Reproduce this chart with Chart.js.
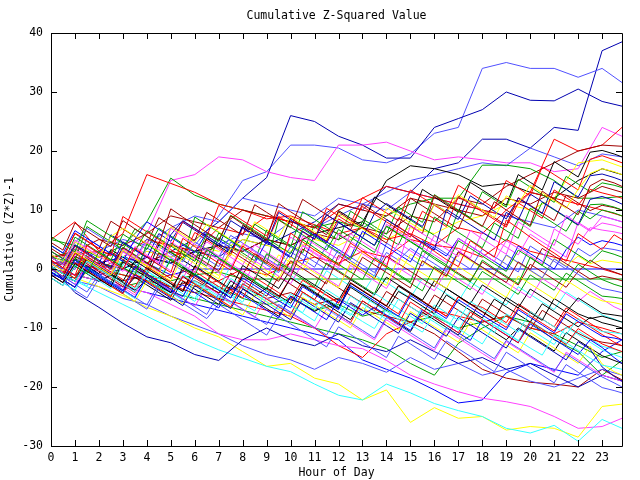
<!DOCTYPE html>
<html>
<head>
<meta charset="utf-8">
<script src="https://cdn.jsdelivr.net/npm/chart.js@4.4.1/dist/chart.umd.min.js"></script>
<style>
  html, body { margin: 0; padding: 0; background: #fff; }
  #wrap { width: 640px; height: 480px; }
</style>
</head>
<body>
<div id="wrap"><canvas id="c" width="640" height="480"></canvas></div>
<script>
// sample times: hourly for the stations that stand out, half-hourly for the bundle (last one 23:50)
var hours = [0,1,2,3,4,5,6,7,8,9,10,11,12,13,14,15,16,17,18,19,20,21,22,23,23.83];
var halfHours = [0,0.5,1,1.5,2,2.5,3,3.5,4,4.5,5,5.5,6,6.5,7,7.5,8,8.5,9,9.5,10,10.5,11,11.5,
                 12,12.5,13,13.5,14,14.5,15,15.5,16,16.5,17,17.5,18,18.5,19,19.5,20,20.5,21,21.5,22,22.5,23,23.5,23.83];
var xTicks = [0,1,2,3,4,5,6,7,8,9,10,11,12,13,14,15,16,17,18,19,20,21,22,23];
var yTicks = [-30,-20,-10,0,10,20,30,40];

var topNavy   = [1,1.5,-1,0,2,1,3,2,5,4,6,8,11,10,14,13,17,18,22,22,20.5,24,23.5,37,38.5];
var topSlate  = [2,1,-1,1,3,2,4,9,15,16.5,21,21,20.5,18.5,18,19.5,23,24,34,35,34,34,32.5,34,31.6];
var peakNavy  = [-1,-1.5,1,2,1,3,5,8,12,15.5,26,25,22.5,21,18.8,18.8,24,25.5,27,30,28.6,28.5,30.5,28.4,27.6];
var pinkHigh  = [0.5,1,2,3,6,15,16,19,18.5,16.5,15.5,15,21,21,21.5,20,18.5,19,18.5,18,18,16.5,17,24,22.5];
var redEarly  = [2,2.5,3,6,16,14.5,13,11,10,8.5,9,7.5,6,7,5,6,4,3.5,2,5,3,2,1,0,-1];
var greenEarly= [5,4,2,4,8,15.4,12.5,11,10,9,8,7,8,7,9,11,12,12,17.6,17.6,17,15,12,12,12.3];
var brownLate = [1,1,0,2,1,3,2,4,3,5,4,6,5,7,6,9,8,12,11,14,16,18,20,21,20.8];
var redLate   = [0,-1,1,0,-2,-1,-3,-2,0,-1,1,2,1,3,2,5,4,7,6,10,13,22,20,21,24];
var blackMid  = [0,-1,1,0,2,1,3,4,3,5,4,6,7,8,15,17.5,17,16,14,14.5,13,12,15,17,16];
var yellowUp  = [1,1,2,1,3,2,4,3,5,4,3,5,4,6,5,7,6,8,9,11,10,12,18,18.5,17.3];
var slateUp   = [0,-1,0,1,2,1,3,4,6,5,8,7,9,11,13,15,16,17,18,17.5,20.5,19,17.5,19.5,19];
var greenFlat = [0,2,1,0,-1,-2,-1,-0.5,-1.7,-1.7,-1.7,-1.7,-1.7,-1.7,-1.7,-1.7,-1.7,-1.7,-1.7,-1.7,-1.7,-1.7,-1.7,-1.7,-1.7];
var blueFlat  = [1,-1,1,2,1,-1,0,0,0,0,0,0,0,0,0,0,0,0,0,0,0,0,0,0,0];
var navyLow   = [0.5,-4,-6.5,-9.2,-11.5,-12.5,-14.5,-15.5,-12,-10,-12,-13,-11,-13,-14,-12,-14,-16,-15,-17,-16,-18,-20,-18,-19];
var cyanLow   = [-0.5,-2,-4,-6,-8,-10,-12,-13.7,-15.1,-16.5,-17.4,-19.5,-21.4,-22.2,-19.5,-21,-22.8,-24,-25,-27,-27.8,-26.5,-29.2,-25.5,-27];
var yellowLow = [0,-1.5,-3,-4.5,-6.5,-8,-10,-11.5,-14,-16.5,-16,-18.5,-19.5,-22.2,-20.5,-26,-23.5,-25.3,-25,-27.3,-26.7,-27,-28.5,-23.3,-22.9];
var pinkLow   = [0,-1,-2,-3,-4,-6,-8,-11,-12,-12,-11,-12,-13,-13.5,-15.5,-18,-19.5,-20.8,-21.9,-22.5,-23.3,-25,-27,-26.7,-25.3];
var slateLow  = [-1,-2,-3,-5,-6,-8,-9.5,-11,-13,-14.5,-15.4,-17,-15,-16,-17.5,-15,-17,-16,-18,-17,-19,-20,-18.5,-17,-18];
var brownLow  = [0,-1,0,-2,-1,-3,-2,-4,-3,-5,-4,-6,-5,-7,-8,-9,-11,-14,-17,-18.5,-19.2,-19.5,-20,-17,-18.8];
var redLow    = [1,1,0,-1,-2,-3,-4,-5,-6,-7,-8,-10,-13,-15,-11,-9,-7,-8,-9,-8,-10,-11,-9,-10,-11];
var greenLow  = [0,-1,-2,-3,-2,-4,-5,-6,-7,-8,-9,-10,-11,-12,-13.5,-16,-18,-12.6,-10,-8,-10,-11,-13,-15,-14];
var greenLow2 = [2,1,0,-1,-2,-3,-4,-3,-5,-6,-5,-7,-6,-8,-7,-9,-8,-10,-9,-8,-9,-12,-14,-18,-15.5];
var blueLow   = [0,-1,-2,-3,-4,-5,-6,-7,-8,-9,-10,-11,-12,-15.4,-17,-18.5,-20.5,-22.7,-22.2,-17.6,-16,-17,-18,-14,-12];
var redUp     = [5,8,3,2,5,4,3,7,6,9,8,7,10,12,14,13,12,11,10,9,13,12,11,10,9];
var brownUp   = [2,3,5,4,6,9,8,7,10,9,8,7,11,10,9,12,11,10,9,12,11,13,12,14,13];
var slateMid  = [1,1,3,5,4,7,9,8,12,11,10,9,12,11,10,13,12,11,10,9,8,7,10,9,8];

// the rest of the bundle, half-hourly
var s01 = [1.5,0.2,-1.1,4.0,2.6,1.3,0.0,3.5, 2.1,0.7,-0.6,5.2,3.8,2.3,1.0,-0.2, 3.9,2.5,1.0,-0.3,6.1,4.6,3.2,1.9, 0.6,4.4,3.0,1.6,0.3,7.2,5.8,4.3, 3.0,1.6,0.4,4.8,3.4,2.0,8.3,6.9, 5.4,4.0,2.7,1.3,6.0,4.6,3.3,5.8, 5.0];
var s02 = [3.0,1.8,0.5,-0.8,2.9,1.6,0.3,-1.0, 4.2,2.8,1.5,0.1,-1.1,3.3,1.9,0.6, -0.7,-2.0,2.6,1.2,-0.1,5.0,3.6,2.2, 0.8,-0.5,-1.8,1.9,0.5,-0.9,-2.2,3.1, 1.7,0.4,-0.9,-2.2,1.5,0.1,-1.2,-2.5, 2.0,0.6,-0.7,-2.0,0.8,-0.5,-1.8,-2.6, -3.0];
var s03 = [-0.5,-1.8,1.5,0.1,-1.2,-2.5,-3.7,0.4, -0.9,-2.2,-3.5,-4.7,-1.0,-2.3,-3.6,-4.9, -1.5,-2.8,-4.1,-5.4,-6.6,-3.0,-4.3,-5.6, -6.9,-2.8,-4.1,-5.4,-6.7,-8.0,-4.5,-5.8, -7.1,-8.4,-5.2,-6.5,-7.8,-9.1,-10.3,-6.9, -8.2,-9.5,-10.8,-7.6,-8.9,-10.2,-11.4,-11.7, -12.0];
var s04 = [2.0,0.7,4.9,3.5,2.2,0.9,-0.4,3.8, 2.4,1.1,6.9,5.5,4.2,2.8,1.5,0.2, 4.3,2.9,1.6,0.3,-1.0,5.6,4.2,2.9, 1.6,6.0,4.6,3.3,2.0,0.7,7.4,6.0, 4.7,3.4,2.1,6.5,5.1,3.8,2.5,8.0, 6.6,5.3,4.0,9.1,7.7,6.4,8.9,8.4, 8.0];
var s05 = [0.5,-0.8,-2.1,1.3,0.0,-1.3,-2.6,-3.9, -0.3,-1.6,-2.9,-4.2,-5.5,-2.0,-3.3,-4.6, -5.9,-7.1,-3.6,-4.9,-6.2,-7.5,-8.8,-5.0, -6.3,-7.6,-8.9,-10.1,-6.8,-8.1,-9.4,-10.7, -7.5,-8.8,-10.1,-11.4,-12.7,-9.5,-10.8,-12.1, -13.4,-14.6,-11.2,-12.5,-13.8,-15.1,-16.3,-16.7, -17.0];
var s06 = [4.5,3.2,7.8,6.4,5.1,3.8,8.2,6.8, 5.5,4.2,10.2,8.8,7.5,6.2,4.9,9.0, 7.6,6.3,5.0,11.1,9.7,8.4,7.1,5.8, 9.7,8.3,7.0,5.7,4.4,8.6,7.3,6.0, 12.5,11.1,9.8,8.5,7.2,11.4,10.0,8.7, 7.4,13.2,11.8,10.5,9.2,14.1,15.2,14.6, 14.0];
var s07 = [1.0,-0.3,2.9,1.6,0.3,-1.0,3.2,1.9, 0.6,-0.7,-2.0,2.2,0.9,-0.4,-1.7,3.6, 2.3,1.0,-0.3,-1.6,2.0,0.7,-0.6,-1.9, -3.2,1.1,-0.2,-1.5,-2.8,1.9,0.6,-0.7, -2.0,-3.3,0.4,-0.9,-2.2,-3.5,-4.8,-1.2, -2.5,-3.8,-5.1,-1.9,-3.2,-4.5,-5.4,-5.7, -6.0];
var s08 = [-1.0,-2.3,0.9,-0.4,-1.7,-3.0,1.2,-0.1, -1.4,-2.7,-4.0,0.3,-1.0,-2.3,-3.6,-4.9, -1.1,-2.4,-3.7,-5.0,-1.5,-2.8,-4.1,-5.4, -6.7,-2.4,-3.7,-5.0,-6.3,-2.9,-4.2,-5.5, -6.8,-3.3,-4.6,-5.9,-7.2,-8.5,-4.8,-6.1, -7.4,-8.7,-5.0,-6.3,-7.6,-8.4,-8.0,-8.6, -9.0];
var s09 = [0.0,-1.3,-2.6,-3.9,-0.9,-2.2,-3.5,-4.8, -6.1,-2.5,-3.8,-5.1,-6.4,-7.7,-4.2,-5.5, -6.8,-8.1,-9.4,-6.0,-7.3,-8.6,-9.9,-11.2, -7.8,-9.1,-10.4,-11.7,-8.2,-9.5,-10.8,-12.1, -13.4,-10.0,-11.3,-12.6,-13.9,-15.2,-12.1,-13.4, -14.7,-16.0,-17.3,-14.4,-15.7,-17.0,-18.3,-19.3, -20.0];
var s10 = [2.0,0.7,4.1,2.8,1.5,0.2,4.6,3.3, 2.0,0.7,5.8,8.2,6.9,5.6,4.3,3.0, 7.1,5.8,4.5,3.2,1.9,6.4,5.1,9.2, 7.9,6.6,5.3,4.0,8.4,7.1,5.8,4.5, 3.2,10.1,8.8,7.5,6.2,4.9,9.6,8.3, 12.7,11.4,10.1,8.8,7.5,11.8,12.3,11.6, 11.0];
var s11 = [-1.0,-2.3,1.0,-0.3,-1.6,-2.9,-4.2,-0.8, -2.1,-3.4,-4.7,-1.2,-2.5,-3.8,-5.1,-6.4, -2.5,-3.8,-5.1,-6.4,-7.7,-3.9,-5.2,-6.5, -7.8,-9.1,-5.4,-6.7,-8.0,-9.3,-5.6,-6.9, -8.2,-9.5,-10.8,-7.3,-8.6,-9.9,-11.2,-12.5, -8.9,-10.2,-11.5,-12.8,-10.1,-11.4,-12.7,-13.5, -14.0];
var s12 = [5.5,4.2,2.9,8.2,6.9,5.6,4.3,3.0, 6.5,5.2,3.9,2.6,1.3,6.0,4.7,9.1, 7.8,6.5,5.2,3.9,2.6,6.8,5.5,4.2, 2.9,1.6,5.3,4.0,7.2,5.9,4.6,3.3, 2.0,0.7,4.8,3.5,2.2,0.9,-0.4,3.2, 1.9,0.6,5.0,3.7,2.4,1.1,3.1,2.5, 2.0];
var s13 = [-0.5,-1.8,-3.1,0.4,-0.9,-2.2,-3.5,-4.8, -1.4,-2.7,-4.0,-2.7,-4.0,-5.3,-6.6,-3.1, -4.4,-5.7,-7.0,-8.3,-4.7,-6.0,-7.3,-8.6, -5.2,-6.5,-7.8,-6.5,-7.8,-9.1,-10.4,-6.9, -8.2,-9.5,-10.8,-12.1,-8.6,-9.9,-11.2,-12.5, -9.3,-10.6,-11.9,-13.2,-14.5,-12.0,-13.3,-15.0, -16.0];
var s14 = [1.0,-0.3,3.2,1.9,0.6,-0.7,2.9,1.6, 4.6,3.3,2.0,0.7,-0.6,3.5,2.2,0.9, -0.4,-1.7,2.4,1.1,5.4,4.1,2.8,1.5, 0.2,3.9,2.6,1.3,7.6,6.3,5.0,3.7, 2.4,1.1,5.2,3.9,2.6,1.3,4.8,3.5, 2.2,0.9,6.8,5.5,4.2,7.0,6.6,6.3, 6.0];
var s15 = [-1.5,-2.8,0.6,-0.7,-2.0,-3.3,0.8,-0.5, -1.8,-3.1,-4.4,-1.0,-2.3,-3.6,-4.9,-1.6, -2.9,-4.2,-5.5,-6.8,-4.2,-5.5,-6.8,-3.5, -4.8,-6.1,-7.4,-4.1,-5.4,-6.7,-8.0,-9.3, -6.1,-7.4,-8.7,-5.5,-6.8,-8.1,-9.4,-10.7, -7.2,-8.5,-9.8,-11.1,-8.4,-9.7,-10.6,-10.8, -11.0];
var s16 = [0.0,-1.3,2.8,1.5,0.2,2.9,1.6,0.3, -1.0,2.7,1.4,0.1,-1.2,-2.5,1.6,0.3, -1.0,2.6,1.3,0.0,-1.3,3.4,2.1,0.8, -0.5,-1.8,2.0,0.7,-0.6,-1.9,-3.2,1.4, 0.1,-1.2,2.9,1.6,0.3,-1.0,-2.3,1.2, -0.1,3.5,2.2,0.9,-0.4,1.5,0.2,-0.5, -1.0];
var s17 = [2.5,1.2,4.6,3.3,2.0,5.5,6.9,5.6, 4.3,3.0,7.1,5.8,4.5,7.6,6.3,5.0, 3.7,8.0,6.7,5.4,8.9,7.6,6.3,5.0, 9.4,8.1,6.8,5.5,10.4,9.1,7.8,6.5, 11.0,9.7,12.6,11.3,10.0,8.7,12.4,11.1, 14.2,12.9,11.6,10.3,13.5,16.2,17.0,16.5, 16.0];
var s18 = [0.5,-0.8,-2.1,1.8,0.5,-0.8,-2.1,1.4, 0.1,-1.2,-2.5,-3.8,0.5,-0.8,-2.1,-3.4, 0.6,-0.7,-2.0,-3.3,-0.1,-1.4,-2.7,-4.0, -5.3,-1.8,-3.1,-4.4,-1.4,-2.7,-4.0,-5.3, -2.0,-3.3,-4.6,-5.9,-2.7,-4.0,-5.3,-6.6, -3.4,-4.7,-6.0,-7.3,-4.9,-6.2,-7.5,-7.8, -8.0];
var s19 = [3.0,1.7,4.4,6.9,5.6,4.3,3.0,1.7, 5.1,3.8,2.5,1.2,4.6,3.3,2.0,5.7, 4.4,3.1,1.8,0.5,3.8,2.5,1.2,-0.1, 3.3,2.0,0.7,-0.6,2.8,1.5,3.5,2.2, 0.9,-0.4,2.9,1.6,0.3,-1.0,2.4,1.1, -0.2,-1.5,1.7,0.4,-0.9,-2.2,-3.3,-3.7, -4.0];
var s20 = [-0.5,-1.8,-3.1,-0.1,-1.4,-2.7,-4.0,-1.0, -2.3,-3.6,-4.9,-6.2,-2.8,-4.1,-5.4,-6.7, -3.4,-4.7,-6.0,-7.3,-8.6,-5.1,-6.4,-7.7, -9.0,-5.7,-7.0,-8.3,-9.6,-10.9,-7.5,-8.8, -10.1,-11.4,-8.2,-9.5,-10.8,-12.1,-13.4,-10.2, -11.5,-12.8,-14.1,-15.4,-12.3,-13.6,-16.6,-18.2, -19.0];
var s21 = [1.0,-0.3,-1.6,2.1,0.8,-0.5,-1.8,-3.1, 0.4,-0.9,-2.2,-3.5,0.3,-1.0,-2.3,-3.6, -4.9,-1.4,-2.7,-4.0,-5.3,-1.9,-3.2,-4.5, -5.8,-2.4,-3.7,-5.0,-6.3,-7.6,-4.1,-5.4, -6.7,-8.0,-4.7,-6.0,-7.3,-8.6,-9.9,-6.6, -7.9,-9.2,-10.5,-7.2,-8.5,-9.8,-11.1,-12.4, -13.0];
var s22 = [2.0,0.7,5.4,4.1,2.8,1.5,5.9,4.6, 3.3,6.9,5.6,4.3,3.0,1.7,6.1,4.8, 3.5,2.2,0.9,8.4,7.1,5.8,4.5,3.2, 6.7,5.4,4.1,2.8,7.3,6.0,4.7,3.4, 8.8,7.5,6.2,4.9,3.6,7.8,6.5,5.2, 10.3,9.0,7.7,6.4,9.8,8.5,10.0,9.5, 9.0];
var s23 = [-1.0,-2.3,-3.6,0.2,-1.1,-2.4,-3.7,-5.0, -1.4,-2.7,-4.0,-5.3,-2.0,-3.3,-4.6,-5.9, -2.4,-3.7,-5.0,-6.3,-7.6,-4.1,-5.4,-6.7, -8.0,-4.6,-5.9,-7.2,-8.5,-5.1,-6.4,-7.7, -9.0,-10.3,-6.9,-8.2,-9.5,-10.8,-7.6,-8.9, -10.2,-11.5,-12.8,-9.8,-11.1,-12.4,-13.7,-14.5, -15.0];
var s24 = [0.0,-1.3,2.4,3.9,2.6,1.3,0.0,-1.3, 2.3,1.0,-0.3,-1.6,2.0,0.7,-0.6,-1.9, -3.2,1.4,0.1,-1.2,-2.5,1.0,-0.3,-1.6, -2.9,0.6,-0.7,-2.0,-3.3,0.2,-1.1,-2.4, -3.7,-0.4,-1.7,-3.0,-4.3,-1.0,-2.3,-3.6, -4.9,-1.6,-2.9,-4.2,-5.5,-3.8,-5.1,-6.4, -7.0];
var s25 = [1.5,0.2,3.9,2.6,1.3,0.0,3.6,2.3, 1.0,-0.3,-1.6,3.6,2.3,1.0,-0.3,3.1, 1.8,0.5,-0.8,-2.1,1.4,0.1,-1.2,-2.5, 2.3,1.0,-0.3,-1.6,2.2,0.9,-0.4,-1.7, -3.0,0.6,-0.7,-2.0,1.2,-0.1,-1.4,-2.7, 0.8,-0.5,-1.8,-3.1,-0.4,-1.7,-1.2,-1.6, -2.0];
var s26 = [-0.5,-1.8,-3.1,-0.3,-1.6,-2.9,-4.2,-5.5, -2.0,-3.3,-4.6,-5.9,-2.6,-3.9,-5.2,-6.5, -7.8,-4.3,-5.6,-6.9,-8.2,-4.8,-6.1,-7.4, -8.7,-10.0,-6.5,-7.8,-9.1,-10.4,-7.2,-8.5, -9.8,-11.1,-12.4,-9.0,-10.3,-11.6,-12.9,-14.2, -10.8,-12.1,-13.4,-14.7,-16.0,-13.1,-16.1,-17.4, -18.0];
var s27 = [4.0,2.7,6.5,5.2,3.9,2.6,1.3,5.0, 8.0,6.7,5.4,4.1,2.8,6.2,4.9,3.6, 2.3,1.0,4.7,3.4,2.1,0.8,5.9,4.6, 3.3,2.0,6.4,5.1,3.8,2.5,1.2,4.8, 3.5,2.2,5.2,3.9,2.6,1.3,0.0,3.9, 2.6,1.3,0.0,3.3,5.4,4.1,4.8,4.4, 4.0];
var s28 = [-1.5,-2.8,0.5,-0.8,-2.1,-1.0,-2.3,-3.6, -1.9,-3.2,-4.5,-1.3,-2.6,-3.9,-5.2,-2.0, -3.3,-4.6,-3.2,-4.5,-5.8,-2.6,-3.9,-5.2, -6.5,-3.1,-4.4,-5.7,-7.0,-3.8,-5.0,-6.3, -7.6,-4.4,-5.7,-7.0,-8.3,-5.1,-6.4,-7.7, -9.0,-5.9,-7.2,-8.5,-9.8,-8.2,-9.1,-9.6, -10.0];
var s29 = [3.0,1.7,6.1,4.8,3.5,2.2,8.9,7.6, 6.3,5.0,3.7,8.1,6.8,5.5,10.8,9.5, 8.2,6.9,5.6,9.9,8.6,7.3,6.0,4.7, 8.5,7.2,10.6,9.3,8.0,6.7,5.4,9.8, 8.5,7.2,12.3,11.0,9.7,8.4,7.1,11.2, 9.9,8.6,13.4,12.1,10.8,13.5,12.9,12.4, 12.0];
var s30 = [-0.5,-1.8,1.6,0.3,-1.0,-2.3,1.5,0.2, -1.1,-2.4,1.7,0.4,-0.9,-2.2,1.8,0.5, -0.8,-2.1,-3.4,0.9,-0.4,-1.7,-3.0,1.0, -0.3,-1.6,-2.9,-4.2,0.2,-1.1,-2.4,-3.7, 0.4,-0.9,-2.2,-3.5,-0.4,-1.7,-3.0,-4.3, -1.0,-2.3,-3.6,-0.7,-2.0,-3.3,-4.6,-4.8, -5.0];
var s31 = [-1.0,-2.3,-3.6,-4.9,-1.6,-2.9,-4.2,-5.5, -6.8,-3.2,-4.5,-5.8,-7.1,-8.4,-6.0,-7.3, -8.6,-9.9,-11.2,-8.0,-9.3,-10.6,-11.9,-13.2, -9.8,-11.1,-12.4,-13.7,-15.0,-11.4,-12.7,-14.0, -15.3,-12.2,-13.5,-14.8,-16.1,-17.4,-14.1,-15.4, -16.7,-18.0,-19.3,-16.2,-17.5,-18.8,-20.1,-20.6, -21.0];
var s32 = [1.5,0.2,3.8,2.5,1.2,-0.1,3.4,2.1, 0.8,-0.5,4.6,3.3,2.0,4.6,3.3,2.0, 0.7,4.1,2.8,1.5,0.2,3.9,2.6,1.3, 6.0,4.7,3.4,2.1,0.8,4.4,3.1,1.8, 5.7,4.4,3.1,1.8,6.3,5.0,3.7,2.4, 5.9,4.6,3.3,2.0,7.9,6.6,7.8,7.4, 7.0];
var s33 = [0.0,-1.3,2.2,0.9,-0.4,-1.7,-3.0,0.5, -0.8,-2.1,-3.4,-0.2,-1.5,-2.8,-4.1,-0.7, -2.0,-3.3,-4.6,-1.3,-2.6,-3.9,-5.2,-1.9, -3.2,-4.5,-5.8,-7.1,-3.8,-5.1,-6.4,-7.7, -4.4,-5.7,-7.0,-8.3,-5.1,-6.4,-7.7,-9.0, -10.3,-7.0,-8.3,-9.6,-10.9,-11.9,-12.4,-12.7, -13.0];
var s34 = [2.0,0.7,3.3,2.0,0.7,-0.6,3.0,1.7, 0.4,-0.9,4.1,2.8,1.5,0.2,-1.1,2.6, 1.3,0.0,-1.3,2.4,1.1,-0.2,3.3,2.0, 0.7,-0.6,2.9,1.6,0.3,-1.0,2.5,1.2, -0.1,-1.4,2.7,1.4,0.1,-1.2,2.3,1.0, -0.3,-1.6,1.8,0.5,2.2,0.9,1.5,1.2, 1.0];
var s35 = [1.0,-0.3,3.4,2.1,0.8,5.8,4.5,3.2, 1.9,6.0,4.7,7.9,6.6,5.3,4.0,8.2, 6.9,5.6,4.3,9.6,8.3,7.0,5.7,4.4, 7.9,6.6,5.3,9.4,11.1,9.8,8.5,7.2, 11.0,9.7,8.4,12.4,11.1,9.8,8.5,12.0, 10.7,9.4,14.8,13.5,12.2,15.8,16.1,15.5, 15.0];
var s36 = [0.5,-0.8,-2.1,1.3,0.0,-1.3,2.2,0.9, -0.4,-1.7,1.8,0.5,-0.8,-2.1,-3.4,0.6, -0.7,-2.0,-3.3,0.2,-1.1,-2.4,-3.7,-0.3, -1.6,-2.9,-4.2,-1.0,-2.3,-3.6,-4.9,-1.6, -2.9,-4.2,-5.5,-2.2,-3.5,-4.8,-6.1,-3.0, -4.3,-5.6,-6.9,-3.9,-5.2,-6.5,-7.8,-8.5, -9.0];
var s37 = [-0.5,-1.8,-3.1,0.2,-1.1,-2.4,-3.7,-1.4, -2.7,-4.0,-5.3,-2.1,-3.4,-4.7,-6.0,-2.8, -4.1,-5.4,-6.7,-8.0,-4.6,-5.9,-7.2,-6.0, -7.3,-8.6,-5.4,-6.7,-8.0,-9.3,-10.6,-7.3, -8.6,-9.9,-11.2,-8.1,-9.4,-10.7,-12.0,-10.0, -11.3,-12.6,-13.9,-10.8,-12.1,-13.4,-14.7,-15.5, -16.0];
var s38 = [4.0,2.7,1.4,7.2,5.9,4.6,3.3,6.8, 5.5,4.2,2.9,1.6,8.8,7.5,6.2,4.9, 3.6,7.6,6.3,5.0,3.7,9.7,8.4,7.1, 5.8,4.5,8.0,6.7,5.4,4.1,8.3,7.0, 5.7,4.4,9.9,8.6,7.3,6.0,4.7,8.5, 7.2,11.3,10.0,8.7,7.4,10.9,11.0,10.5, 10.0];
var s39 = [0.5,-0.8,-2.1,1.2,-0.1,-1.4,-2.7,-4.0, 0.1,-1.2,-2.5,-3.8,-0.4,-1.7,-3.0,-4.3, -0.8,-2.1,-3.4,-4.7,-1.5,-2.8,-3.1,-4.4, -5.7,-2.3,-3.6,-4.9,-6.2,-2.8,-4.1,-5.4, -6.7,-8.0,-4.7,-6.0,-6.5,-7.8,-9.1,-5.9, -7.2,-8.5,-9.8,-6.6,-7.9,-9.2,-10.5,-11.3, -12.0];
var s40 = [2.5,1.2,-0.1,5.2,3.9,2.6,1.3,0.0, 3.6,2.3,1.0,-0.3,3.0,1.7,0.4,4.6, 3.3,2.0,0.7,-0.6,2.9,1.6,0.3,4.0, 2.7,1.4,0.1,-1.2,4.4,3.1,1.8,0.5, 3.9,2.6,1.3,0.0,3.4,2.1,0.8,-0.5, 3.9,2.6,1.3,0.0,3.5,2.2,3.6,3.3, 3.0];
var s41 = [0.5,-0.8,2.6,1.3,0.0,-1.3,3.1,1.8, 0.5,4.6,3.3,2.0,6.2,4.9,3.6,2.3, 7.0,5.7,4.4,8.9,7.6,6.3,5.0,10.3, 9.0,7.7,12.1,10.8,9.5,8.2,13.4,12.1, 10.8,9.5,14.2,12.9,11.6,10.3,15.0,13.7, 12.4,17.3,16.0,14.7,13.4,18.6,19.2,18.5, 18.0];
var s42 = [1.0,-0.3,-1.6,2.5,1.2,-0.1,3.7,2.4, 1.1,-0.2,4.4,3.1,1.8,0.5,5.3,4.0, 2.7,1.4,6.6,5.3,4.0,2.7,7.5,6.2, 4.9,9.8,8.5,7.2,5.9,10.5,9.2,7.9, 12.6,11.3,10.0,8.7,13.1,11.8,10.5,15.2, 13.9,12.6,11.3,15.7,14.4,13.1,14.6,14.2, 13.8];
var s43 = [-0.5,-1.8,1.8,0.5,-0.8,3.3,2.0,0.7, -0.6,4.1,2.8,1.5,0.2,5.2,3.9,2.6, 7.4,6.1,4.8,3.5,8.6,7.3,6.0,4.7, 9.9,8.6,7.3,12.2,10.9,9.6,8.3,13.5, 12.2,10.9,9.6,14.7,13.4,12.1,10.8,16.0, 14.7,13.4,18.2,16.9,15.6,19.8,20.1,19.5, 19.0];
var s44 = [0.0,-1.3,-2.6,0.8,-0.5,-1.8,-3.1,-4.4, -1.1,-2.4,-3.7,-5.0,-6.3,-3.0,-4.3,-5.6, -6.9,-8.2,-4.9,-6.2,-7.5,-8.8,-10.1,-6.8, -8.1,-9.4,-10.7,-12.0,-8.6,-9.9,-11.2,-12.5, -13.8,-10.4,-11.7,-13.0,-14.3,-15.6,-12.3,-13.6, -14.9,-16.2,-17.5,-14.1,-15.4,-16.7,-18.0,-18.6, -19.0];
var s45 = [1.0,-0.3,-1.6,-2.9,0.5,-0.8,-2.1,-3.4, 0.2,-1.1,-2.4,-3.7,-5.0,-1.7,-3.0,-4.3, -5.6,-2.2,-3.5,-4.8,-6.1,-7.4,-4.0,-5.3, -6.6,-7.9,-4.6,-5.9,-7.2,-8.5,-9.8,-6.4, -7.7,-9.0,-10.3,-7.0,-8.3,-9.6,-10.9,-12.2, -8.8,-10.1,-11.4,-12.7,-10.5,-11.8,-13.1,-13.6, -14.0];
var s46 = [3.5,2.2,6.0,4.7,3.4,8.1,6.8,5.5, 4.2,8.7,7.4,6.1,4.8,9.6,8.3,7.0, 5.7,10.9,9.6,8.3,7.0,11.8,10.5,9.2, 7.9,6.6,11.0,9.7,8.4,7.1,12.0,10.7, 9.4,8.1,6.8,11.3,10.0,8.7,7.4,12.1, 10.8,9.5,8.2,12.5,11.2,9.9,10.8,10.4, 10.0];

// gnuplot-ish pen colours
var RED = '#ff0000', GRN = '#00a000', BLU = '#0000ff', MAG = '#ff40ff', CYN = '#33ffff',
    BRN = '#a00000', YEL = '#ffff00', BLK = '#000000', SLT = '#5050ff', NAV = '#0000b0';

var series = [
  [s01,RED],[s02,GRN],[s03,BLU],[s04,MAG],[s05,CYN],[s06,BRN],[s07,YEL],[s08,BLK],[s09,SLT],[s10,NAV],
  [s11,RED],[s12,GRN],[s13,BLU],[s14,MAG],[s15,CYN],[s16,BRN],[s17,YEL],[s18,BLK],[s19,SLT],[s20,NAV],
  [s21,RED],[s22,GRN],[s23,CYN],[s24,MAG],[s25,BRN],[s26,YEL],[s27,BLU],[s28,BLK],[s29,RED],[s30,GRN],
  [s31,SLT],[s32,MAG],[s33,BRN],[s34,YEL],[s35,NAV],[s36,CYN],[s37,BLK],[s38,GRN],[s39,RED],[s40,SLT],
  [s41,RED],[s42,GRN],[s43,BLK],[s44,MAG],[s45,CYN],[s46,BRN],
  [redUp,RED],[brownUp,BRN],[slateMid,SLT],
  [navyLow,NAV],[cyanLow,CYN],[yellowLow,YEL],[pinkLow,MAG],[slateLow,SLT],[brownLow,BRN],
  [redLow,RED],[greenLow,GRN],[greenLow2,GRN],[blueLow,BLU],
  [greenFlat,GRN],[blueFlat,BLU],
  [redEarly,RED],[greenEarly,GRN],[brownLate,BRN],[redLate,RED],[blackMid,BLK],[yellowUp,YEL],[slateUp,SLT],
  [pinkHigh,MAG],[peakNavy,NAV],[topSlate,SLT],[topNavy,NAV]
];

var FONT = { family: 'DejaVu Sans Mono', size: 11.5 };

var frame = {
  id: 'frame',
  afterDraw: function(chart) {
    var ctx = chart.ctx, a = chart.chartArea;
    var xs = chart.scales.x, ys = chart.scales.y;
    ctx.save();
    ctx.strokeStyle = '#000';
    ctx.lineWidth = 1;
    ctx.beginPath();
    ctx.rect(Math.round(a.left) + 0.5, Math.round(a.top) + 0.5, Math.round(a.right - a.left), Math.round(a.bottom - a.top));
    xTicks.forEach(function(t){
      var px = Math.round(xs.getPixelForValue(t)) + 0.5;
      ctx.moveTo(px, a.bottom); ctx.lineTo(px, a.bottom - 6);
      ctx.moveTo(px, a.top); ctx.lineTo(px, a.top + 6);
    });
    yTicks.forEach(function(t){
      var py = Math.round(ys.getPixelForValue(t)) + 0.5;
      ctx.moveTo(a.left, py); ctx.lineTo(a.left + 6, py);
      ctx.moveTo(a.right, py); ctx.lineTo(a.right - 6, py);
    });
    ctx.stroke();
    // title over the plot centre
    ctx.fillStyle = '#000';
    ctx.font = FONT.size + 'px "' + FONT.family + '"';
    ctx.textAlign = 'center';
    ctx.textBaseline = 'middle';
    ctx.fillText('Cumulative Z-Squared Value', (a.left + a.right) / 2, 16);
    ctx.restore();
  }
};

var datasets = series.map(function(s){
  var vals = s[0];
  var xs = vals.length > hours.length ? halfHours : hours;
  var pts = [];
  for (var i = 0; i < vals.length && i < xs.length; i++) pts.push({ x: xs[i], y: vals[i] });
  return {
    data: pts,
    borderColor: s[1],
    borderWidth: 1,
    pointRadius: 0,
    fill: false,
    tension: 0
  };
});

new Chart(document.getElementById('c'), {
  type: 'line',
  data: { datasets: datasets },
  plugins: [frame],
  options: {
    responsive: false,
    animation: false,
    layout: { padding: { top: 33, right: 18, left: 0, bottom: 0 } },
    plugins: { legend: { display: false }, tooltip: { enabled: false }, title: { display: false } },
    scales: {
      x: {
        type: 'linear', min: 0, max: 23.83,
        grid: { display: false, drawTicks: false },
        border: { display: false },
        ticks: { stepSize: 1, color: '#000', font: FONT, padding: 5, maxRotation: 0, autoSkip: false },
        afterBuildTicks: function(s){ s.ticks = xTicks.map(function(v){ return { value: v }; }); },
        afterFit: function(s){ s.height = 34; },
        title: { display: true, text: 'Hour of Day', color: '#000', font: FONT, padding: 0 }
      },
      y: {
        min: -30, max: 40,
        grid: { display: false, drawTicks: false },
        border: { display: false },
        ticks: { stepSize: 10, color: '#000', font: FONT, padding: 8 },
        afterBuildTicks: function(s){ s.ticks = yTicks.map(function(v){ return { value: v }; }); },
        afterFit: function(s){ s.width = 51; },
        title: { display: true, text: 'Cumulative (Z*Z)-1', color: '#000', font: FONT, padding: { top: 3, bottom: 0 } }
      }
    }
  }
});
</script>
</body>
</html>
